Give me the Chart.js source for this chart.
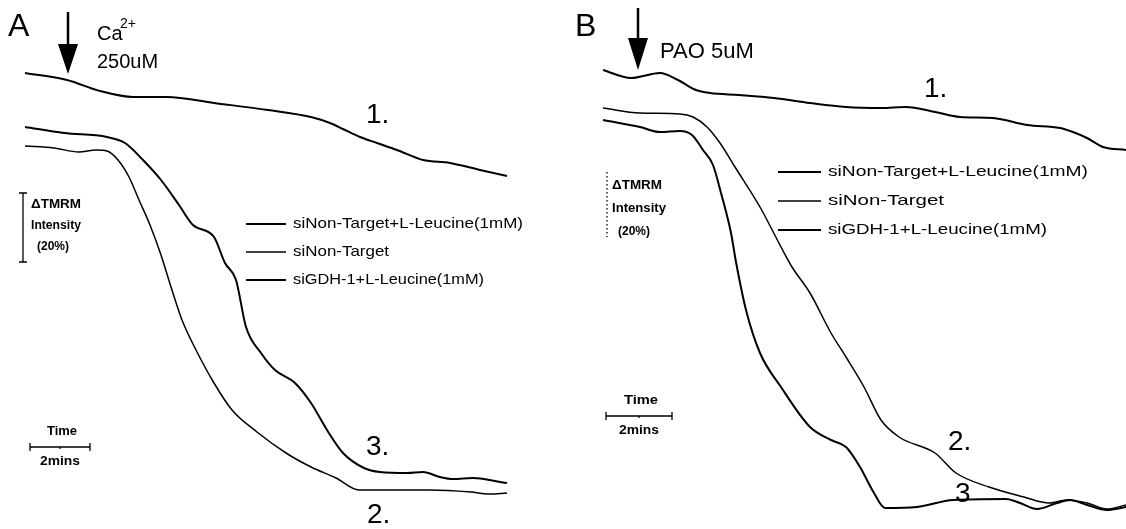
<!DOCTYPE html>
<html>
<head>
<meta charset="utf-8">
<script src="https://cdn.jsdelivr.net/npm/chart.js@4.4.0/dist/chart.umd.min.js"></script>
<style>
  html, body { margin: 0; padding: 0; background: #fff; }
  #wrap { position: relative; width: 1126px; height: 529px; }
  .panel { position: absolute; top: 0; width: 563px; height: 529px; }
  #panelA { left: 0; }
  #panelB { left: 563px; }
</style>
</head>
<body>
<div id="wrap">
  <div class="panel" id="panelA"><canvas id="chartA"></canvas></div>
  <div class="panel" id="panelB"><canvas id="chartB"></canvas></div>
</div>
<script>
// Series names (legend order = trace numbers 1, 2, 3)
const seriesLabels = ['siNon-Target+L-Leucine(1mM)', 'siNon-Target', 'siGDH-1+L-Leucine(1mM)'];

// Panel A - Ca2+ 250uM. time in seconds, TMRM intensity in a.u.
const timeA_ntLeu = [0, 84, 150, 216, 284, 378, 486, 572, 610, 636, 670, 704, 744, 796, 850, 910, 964];
const tmrmA_ntLeu = [457, 450, 439, 433, 433, 427, 420, 413, 407, 401, 393, 387, 380, 370, 367, 360, 354];
const timeA_nt = [0, 58, 108, 142, 164, 186, 208, 228, 250, 272, 292, 314, 342, 378, 414, 464, 522, 572, 622, 668, 722, 808, 892, 928, 964];
const tmrmA_nt = [384, 382, 378, 380, 379, 370, 353, 330, 305, 275, 243, 210, 180, 147, 120, 98, 77, 63, 52, 40, 40, 40, 38, 36, 37];
const timeA_gdh = [0, 78, 164, 200, 236, 272, 308, 336, 378, 400, 422, 442, 472, 500, 540, 572, 604, 636, 678, 710, 764, 796, 830, 856, 896, 950, 964];
const tmrmA_gdh = [403, 397, 393, 387, 370, 350, 325, 305, 293, 267, 250, 203, 177, 160, 147, 127, 100, 77, 62, 58, 57, 58, 53, 51, 52, 48, 47];

// Panel B - PAO 5uM
const timeB_ntLeu = [0, 56, 114, 150, 186, 214, 272, 342, 414, 486, 556, 606, 664, 714, 780, 848, 914, 940, 968, 1000, 1046];
const tmrmB_ntLeu = [460, 452, 457, 450, 440, 437, 435, 432, 427, 423, 422, 423, 418, 413, 412, 405, 402, 398, 392, 383, 380];
const timeB_nt = [0, 74, 154, 180, 208, 234, 264, 314, 356, 378, 414, 456, 486, 522, 556, 592, 664, 706, 772, 842, 892, 928, 968, 1008, 1046];
const tmrmB_nt = [422, 417, 416, 413, 403, 387, 363, 323, 283, 263, 237, 197, 173, 143, 110, 93, 77, 57, 43, 33, 27, 30, 27, 21, 25];
const timeB_gdh = [0, 74, 114, 154, 178, 200, 220, 236, 256, 266, 286, 314, 356, 414, 456, 486, 514, 542, 564, 628, 700, 806, 834, 868, 908, 934, 968, 1008, 1046];
const tmrmB_gdh = [410, 403, 398, 399, 395, 380, 365, 337, 297, 268, 220, 177, 143, 103, 90, 83, 63, 37, 22, 23, 30, 31, 27, 21, 27, 30, 25, 20, 23];

const lineWidths = [2, 1.5, 2];

function toPoints(x, y) {
  return x.map((xVal, i) => ({ x: xVal, y: y[i] }));
}

// draw text squeezed/stretched to a given width (the figure uses narrow type)
function fitText(ctx, text, x, y, width) {
  const w = ctx.measureText(text).width;
  ctx.save();
  ctx.translate(x, y);
  ctx.scale(width / w, 1);
  ctx.fillText(text, 0, 0);
  ctx.restore();
}

// panel decorations: letter, treatment arrow, legend, scale bars, trace numbers
const figureText = {
  id: 'figureText',
  afterDraw(chart, args, opts) {
    const ctx = chart.ctx;
    ctx.save();
    ctx.fillStyle = '#000';
    ctx.strokeStyle = '#000';
    ctx.textBaseline = 'alphabetic';

    // panel letter
    ctx.font = '32px "Liberation Sans", Arial, sans-serif';
    ctx.fillText(opts.letter, opts.letterPos[0], opts.letterPos[1]);

    // arrow
    const ar = opts.arrow;
    ctx.lineWidth = 2.5;
    ctx.beginPath();
    ctx.moveTo(ar.x, ar.top);
    ctx.lineTo(ar.x, ar.head);
    ctx.stroke();
    ctx.beginPath();
    ctx.moveTo(ar.x - 10, ar.head);
    ctx.lineTo(ar.x + 10, ar.head);
    ctx.lineTo(ar.x, ar.tip);
    ctx.closePath();
    ctx.fill();

    // treatment text
    opts.drug.forEach(d => {
      ctx.font = d.size + 'px "Liberation Sans", Arial, sans-serif';
      ctx.fillText(d.text, d.x, d.y);
    });

    // legend
    const lg = opts.legend;
    ctx.textBaseline = 'middle';
    ctx.font = '15px "Liberation Sans", Arial, sans-serif';
    seriesLabels.forEach((label, i) => {
      const y = lg.ys[i];
      ctx.lineWidth = lineWidths[i];
      ctx.beginPath();
      ctx.moveTo(lg.x0, y);
      ctx.lineTo(lg.x1, y);
      ctx.stroke();
      fitText(ctx, label, lg.tx, y, lg.widths[i]);
    });

    // intensity scale bar
    const ib = opts.intensityBar;
    ctx.lineWidth = 1.3;
    if (ib.dotted) ctx.setLineDash([1.5, 2.5]);
    ctx.beginPath();
    ctx.moveTo(ib.x, ib.y0);
    ctx.lineTo(ib.x, ib.y1);
    ctx.stroke();
    ctx.setLineDash([]);
    if (!ib.dotted) {
      ctx.beginPath();
      ctx.moveTo(ib.x - 4, ib.y0); ctx.lineTo(ib.x + 4, ib.y0);
      ctx.moveTo(ib.x - 4, ib.y1); ctx.lineTo(ib.x + 4, ib.y1);
      ctx.stroke();
    }
    ctx.font = 'bold 12px "Liberation Sans", Arial, sans-serif';
    ctx.textAlign = 'left';
    fitText(ctx, '\u0394TMRM', ib.tx, ib.ty[0], ib.tw[0]);
    fitText(ctx, 'Intensity', ib.tx, ib.ty[1], ib.tw[1]);
    fitText(ctx, '(20%)', ib.tx + 6, ib.ty[2], ib.tw[2]);

    // time scale bar
    const tb = opts.timeBar;
    ctx.lineWidth = 1.3;
    ctx.beginPath();
    ctx.moveTo(tb.x0, tb.y); ctx.lineTo(tb.x1, tb.y);
    ctx.moveTo(tb.x0, tb.y - 4); ctx.lineTo(tb.x0, tb.y + 4);
    ctx.moveTo(tb.x1, tb.y - 4); ctx.lineTo(tb.x1, tb.y + 4);
    ctx.moveTo((tb.x0 + tb.x1) / 2, tb.y); ctx.lineTo((tb.x0 + tb.x1) / 2, tb.y + 2);
    ctx.stroke();
    ctx.font = 'bold 12px "Liberation Sans", Arial, sans-serif';
    fitText(ctx, 'Time', tb.tx[0], tb.y - 15, tb.tw[0]);
    fitText(ctx, '2mins', tb.tx[1], tb.y + 15, tb.tw[1]);

    // trace numbers
    ctx.textBaseline = 'alphabetic';
    ctx.font = '28px "Liberation Sans", Arial, sans-serif';
    opts.numbers.forEach(n => ctx.fillText(n.text, n.x, n.y));

    ctx.restore();
  }
};

function makeChart(id, series, xMin, xMax, deco) {
  const ctx = document.getElementById(id).getContext('2d');
  return new Chart(ctx, {
    type: 'line',
    data: {
      datasets: series.map((s, i) => ({
        label: seriesLabels[i],
        data: toPoints(s[0], s[1]),
        borderColor: '#000',
        backgroundColor: 'transparent',
        borderWidth: lineWidths[i],
        pointRadius: 0,
        cubicInterpolationMode: 'monotone',
        fill: false
      }))
    },
    options: {
      responsive: true,
      maintainAspectRatio: false,
      animation: false,
      layout: { padding: 0 },
      scales: {
        x: { type: 'linear', display: false, min: xMin, max: xMax },
        y: { type: 'linear', display: false, min: 1, max: 530 }
      },
      plugins: {
        legend: { display: false },
        tooltip: { enabled: false },
        figureText: deco
      }
    },
    plugins: [figureText]
  });
}

makeChart('chartA', [[timeA_ntLeu, tmrmA_ntLeu], [timeA_nt, tmrmA_nt], [timeA_gdh, tmrmA_gdh]], -50, 1076, {
  letter: 'A',
  letterPos: [8, 36],
  arrow: { x: 68, top: 12, head: 44, tip: 74 },
  drug: [
    { text: 'Ca', x: 97, y: 40, size: 20 },
    { text: '2+', x: 120, y: 28, size: 14 },
    { text: '250uM', x: 97, y: 68, size: 20 }
  ],
  legend: { x0: 246, x1: 286, tx: 293, ys: [224, 252, 280], widths: [230, 96, 191] },
  intensityBar: { x: 23, y0: 193, y1: 262, dotted: false, tx: 31, ty: [205, 226, 247], tw: [50, 50, 32] },
  timeBar: { x0: 30, x1: 90, y: 447, tx: [47, 40], tw: [30, 40] },
  numbers: [
    { text: '1.', x: 366, y: 123 },
    { text: '3.', x: 366, y: 455 },
    { text: '2.', x: 367, y: 523 }
  ]
});

makeChart('chartB', [[timeB_ntLeu, tmrmB_ntLeu], [timeB_nt, tmrmB_nt], [timeB_gdh, tmrmB_gdh]], -80, 1046, {
  letter: 'B',
  letterPos: [12, 36],
  arrow: { x: 75, top: 8, head: 38, tip: 70 },
  drug: [
    { text: 'PAO 5uM', x: 97, y: 58, size: 22 }
  ],
  legend: { x0: 215, x1: 258, tx: 265, ys: [172, 201, 230], widths: [260, 116, 219] },
  intensityBar: { x: 44, y0: 172, y1: 237, dotted: true, tx: 49, ty: [186, 209, 232], tw: [50, 54, 32] },
  timeBar: { x0: 43, x1: 109, y: 416, tx: [61, 56], tw: [34, 40] },
  numbers: [
    { text: '1.', x: 361, y: 97 },
    { text: '2.', x: 385, y: 450 },
    { text: '3', x: 392, y: 502 }
  ]
});
</script>
</body>
</html>
